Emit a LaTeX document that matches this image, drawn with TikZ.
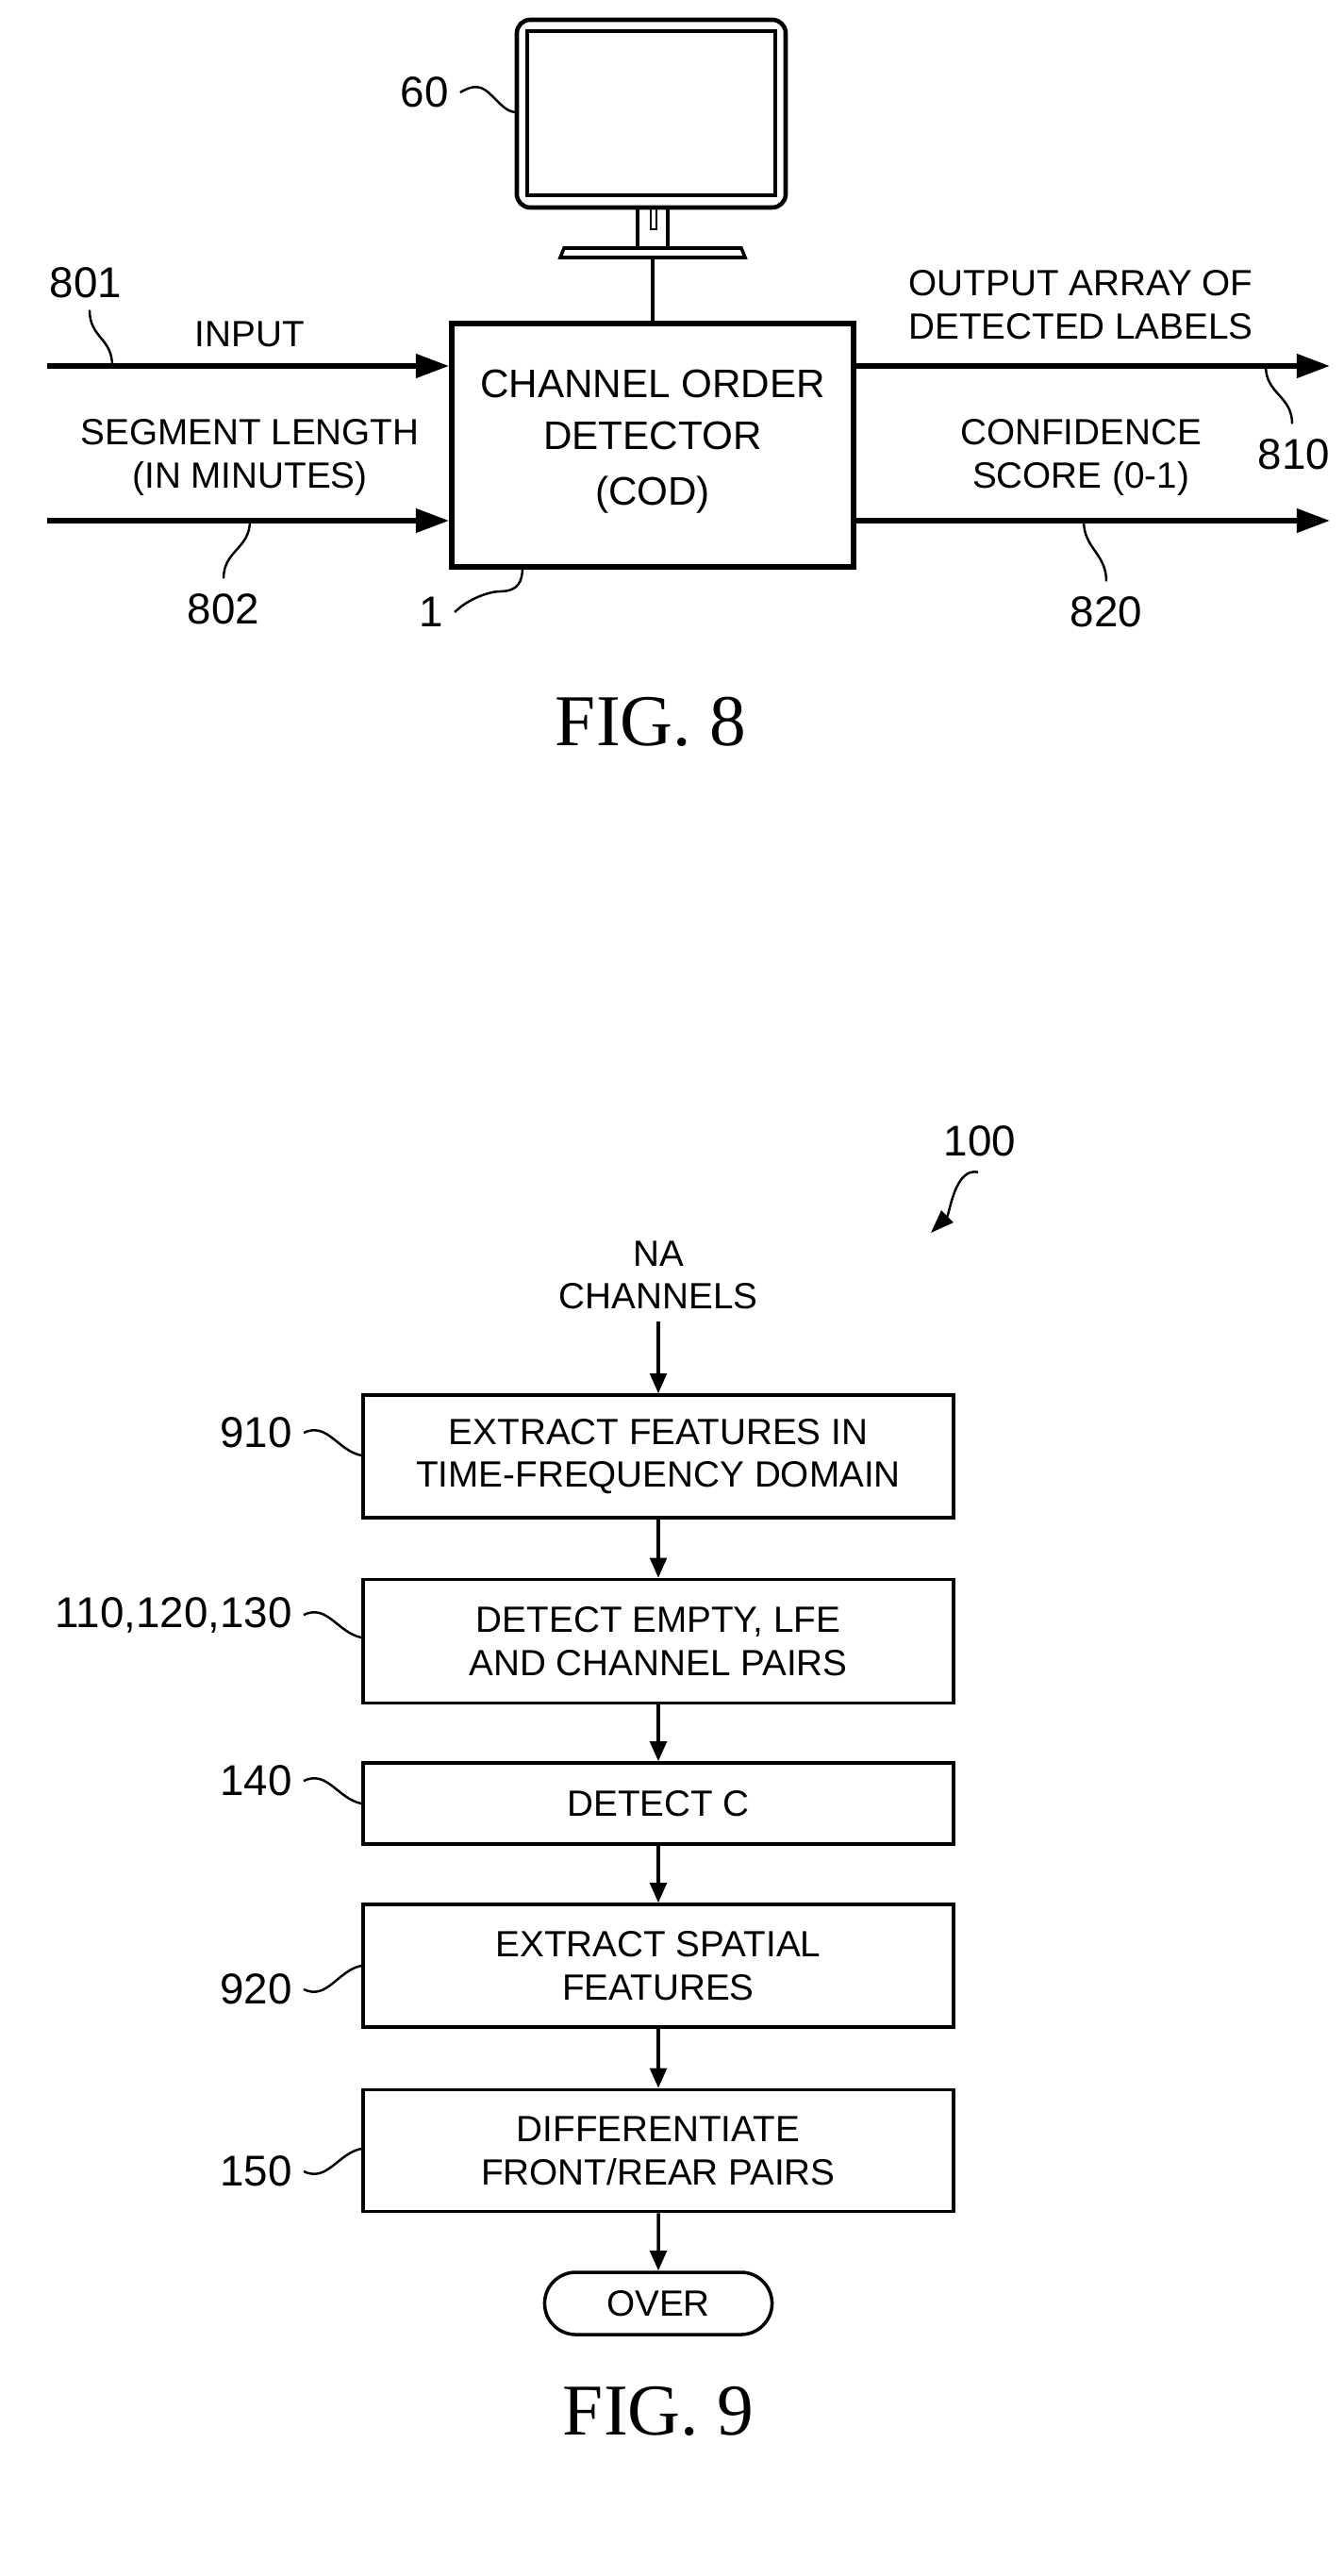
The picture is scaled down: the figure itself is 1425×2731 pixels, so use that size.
\documentclass[tikz,border=0pt]{standalone}
\usepackage{fontspec}
\setmainfont{Liberation Sans}
\newfontfamily\figfont{Liberation Serif}
\usetikzlibrary{arrows.meta, positioning, shapes.misc}

\begin{document}
\begin{tikzpicture}[x=0.01cm, y=-0.01cm,
    txt/.style={font=\fontsize{11}{13}\selectfont, align=center},
    ref/.style={font=\fontsize{13}{15}\selectfont},
    blk/.style={draw, line width=1pt, minimum width=6.26cm, minimum height=#1, inner sep=0pt, txt},
    flow/.style={-{Triangle[length=6pt,width=5pt]}, line width=1pt},
    sig/.style={-{Triangle[length=10pt,width=7pt]}, line width=1.6pt},
    lead/.style={line width=0.7pt},
    figcap/.style={font=\figfont\fontsize{22}{24}\selectfont}]
  \useasboundingbox (0,0) rectangle (1425,2731);
  % FIG. 8
  \def\Yin{388};
  \def\Yseg{552};
         \draw[line width=1.3pt, rounded corners=4] (548,21) rectangle (833,220);
         \draw[line width=1pt] (559,33) rectangle (822,207);
         \draw[line width=1pt] (676,220) rectangle (708,265);
         \draw[line width=0.8pt] (690,220) -- (690,243) -- (696,243) -- (696,220);
         \draw[line width=1pt, fill=white] (598,263) -- (786,263) -- (790,273) -- (594,273) -- cycle;
        \coordinate (base) at (692,273);
        \node[draw, line width=1.6pt, minimum width=4.26cm, minimum height=2.58cm] (cod) at (692,472) {};
        \node[txt, font=\fontsize{12}{14}\selectfont] at (692,407) {CHANNEL ORDER};
        \node[txt, font=\fontsize{12}{14}\selectfont] at (692,462) {DETECTOR};
        \node[txt, font=\fontsize{12}{14}\selectfont] at (692,525) {(COD)};
	\draw[line width=1pt] (base) -- (cod.north -| base);

        \coordinate (in1) at (50,\Yin);
        \coordinate (in2) at (50,\Yseg);
        \coordinate (out1) at (1410,\Yin);
        \coordinate (out2) at (1410,\Yseg);
	\draw[sig] (in1) -- (cod.west |- in1);
	\draw[sig] (in2) -- (cod.west |- in2);
	\draw[sig] (cod.east |- out1) -- (out1);
	\draw[sig] (cod.east |- out2) -- (out2);

        \node[txt] (inp) at (265,354) {INPUT};
        \node[txt] (seg) at (265,485) {SEGMENT LENGTH\\(IN MINUTES)};
        \node[txt] (arr) at (1146,323) {OUTPUT ARRAY OF\\DETECTED LABELS};
        \node[txt] (conf) at (1146,485) {CONFIDENCE\\SCORE (0-1)};

        \node[ref] (r801) at (91,300) {801};
        \node[ref] (r802) at (237,646) {802};
        \node[ref] (r1) at (457,649) {1};
        \node[ref] (r60) at (450,98) {60};
        \node[ref] (r810) at (1372,482) {810};
        \node[ref] (r820) at (1173,649) {820};
	\draw[lead] (r801.south) ++(4,0) .. controls +(0,30) and +(0,-30) .. (119,\Yin);
	\draw[lead] (r802.north) ++(0,-4) .. controls +(0,-30) and +(0,30) .. (265,\Yseg);
	\draw[lead] (r1.east) .. controls +(15,-15) and +(-10,0) .. (530,627) .. controls +(20,0) and +(0,15) .. (554,601);
	\draw[lead] (r60.east) .. controls +(20,-12) and +(-10,-10) .. (525,105) .. controls +(10,10) and +(-8,0) .. (548,119);
	\draw[lead] (r810.north) ++(-2,-4) .. controls +(0,-30) and +(0,30) .. (1342,\Yin);
	\draw[lead] (r820.north) ++(0,-4) .. controls +(0,-30) and +(0,30) .. (1149,\Yseg);

        \node[figcap] (fig8) at (690,765) {FIG. 8};

  % FIG. 9
        \node[txt] (na) at (698,1352) {NA\\CHANNELS};
        \node[blk=1.30cm] (b910) at (698,1544) {EXTRACT FEATURES IN\\TIME-FREQUENCY DOMAIN};
        \node[blk=1.31cm] (b110) at (698,1740) {DETECT EMPTY, LFE\\AND CHANNEL PAIRS};
        \node[blk=0.86cm] (b140) at (698,1912) {DETECT C};
        \node[blk=1.30cm] (b920) at (698,2084) {EXTRACT SPATIAL\\FEATURES};
        \node[blk=1.29cm] (b150) at (698,2280) {DIFFERENTIATE\\FRONT/REAR PAIRS};
        \node[draw, line width=1pt, rounded rectangle, minimum width=2.41cm, minimum height=0.66cm, inner sep=0pt, txt] (over) at (698,2442) {OVER};
	\draw[flow] (na) -- (b910);
	\draw[flow] (b910) -- (b110);
	\draw[flow] (b110) -- (b140);
	\draw[flow] (b140) -- (b920);
	\draw[flow] (b920) -- (b150);
	\draw[flow] (b150) -- (over);

        \node[ref, anchor=east] (r910) at (322,1519) {910};
        \node[ref, anchor=east] (r110) at (322,1712) {110,120,130};
        \node[ref, anchor=east] (r140) at (322,1888) {140};
        \node[ref, anchor=east] (r920) at (322,2109) {920};
        \node[ref, anchor=east] (r150) at (322,2302) {150};
	\draw[lead] (r910.east) .. controls +(25,-12) and +(-25,-5) .. (b910.west |- 0,1543);
	\draw[lead] (r110.east) .. controls +(25,-12) and +(-25,-5) .. (b110.west |- 0,1736);
	\draw[lead] (r140.east) .. controls +(25,-12) and +(-25,-5) .. (b140.west |- 0,1912);
	\draw[lead] (r920.east) .. controls +(25,12) and +(-25,5) .. (b920.west |- 0,2084);
	\draw[lead] (r150.east) .. controls +(25,12) and +(-25,5) .. (b150.west |- 0,2278);

        \node[ref] (r100) at (1039,1210) {100};
        \coordinate (p100) at (987,1307);
	\draw[lead, -{Triangle[length=7pt,width=5pt]}] (r100.south) ++(-2,4) .. controls +(-25,-5) and +(20,-20) .. (p100);

        \node[figcap] (fig9) at (698,2556) {FIG. 9};
\end{tikzpicture}
\end{document}
